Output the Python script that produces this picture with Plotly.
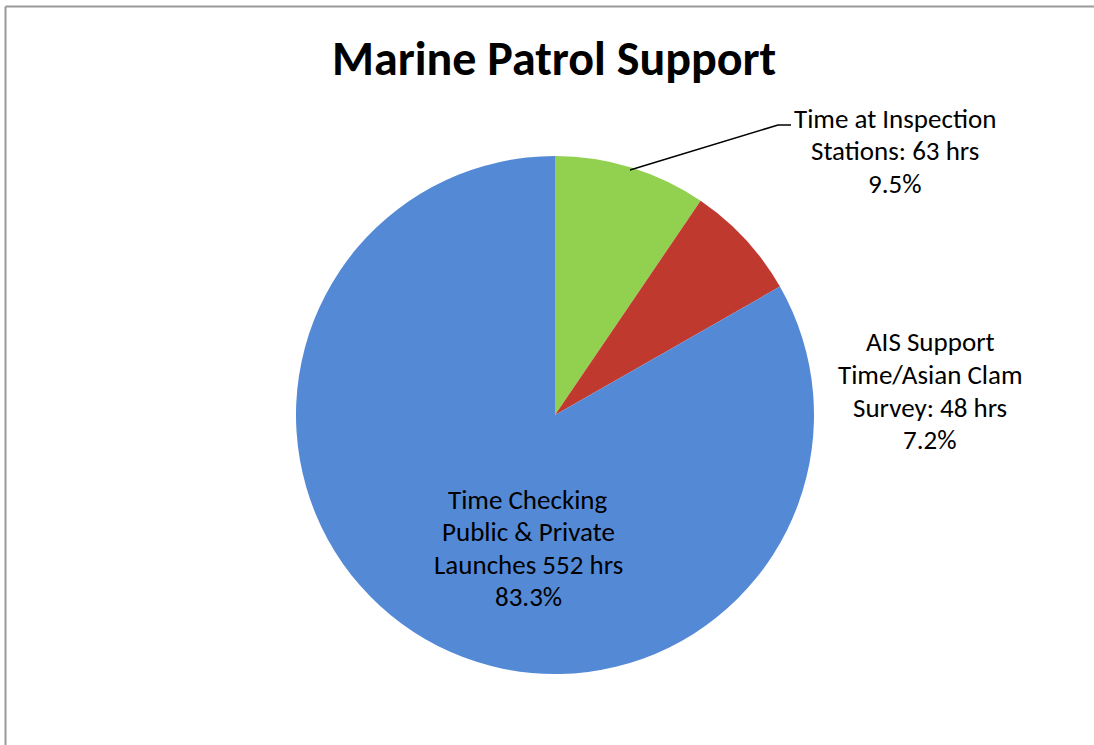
import plotly.graph_objects as go

# Hours logged per activity (clockwise from 12 o'clock)
categories = [
    "Time at Inspection<br>Stations:",
    "AIS Support<br>Time/Asian Clam<br>Survey:",
    "Time Checking<br>Public & Private<br>Launches",
]
hours = [63, 48, 552]
colors = ["#92D050", "#C0392F", "#5489D6"]

title_text = "Marine Patrol Support"

W, H = 1094, 745
FONT = "Carlito, Lato, sans-serif"
LABEL_SIZE = 27
LINE_STEP = 32.5

# pie geometry in pixels
cx, cy, r = 555, 415, 259


def px(x):
    return x / W


def py(y):
    return 1 - y / H


total = sum(hours)
pcts = [h / total * 100 for h in hours]

fig = go.Figure(
    go.Pie(
        labels=categories,
        values=hours,
        sort=False,
        direction="clockwise",
        rotation=0,
        marker=dict(colors=colors, line=dict(width=0)),
        textinfo="none",
        hoverinfo="label+value+percent",
        showlegend=False,
        domain=dict(x=[px(cx - r), px(cx + r)], y=[py(cy + r), py(cy - r)]),
    )
)

# first-line center (pixels) of each slice label
label_pos = [(895, 118), (930, 342), (528, 499)]
annotations = []
for cat, h, p, (lx, ly) in zip(categories, hours, pcts, label_pos):
    text = f"{cat} {h} hrs<br>{p:.1f}%"
    for i, line in enumerate(text.split("<br>")):
        annotations.append(
            dict(
                x=px(lx), y=py(ly + i * LINE_STEP), xref="paper", yref="paper",
                text=line, showarrow=False,
                xanchor="center", yanchor="middle", align="center",
                font=dict(family=FONT, size=LABEL_SIZE, color="#000000"),
            )
        )

# chart title
annotations.append(
    dict(
        x=px(554), y=py(58), xref="paper", yref="paper",
        text=f"<b>{title_text}</b>", showarrow=False,
        xanchor="center", yanchor="middle",
        font=dict(family=FONT, size=48, color="#000000"),
    )
)

shapes = [
    # leader line to the small green slice's label
    dict(type="path", xref="paper", yref="paper",
         path=f"M {px(630)},{py(170)} L {px(778)},{py(125)} L {px(791)},{py(125)}",
         line=dict(color="#000000", width=1.6)),
    # chart frame (left and top edges)
    dict(type="line", xref="paper", yref="paper",
         x0=px(5.5), x1=px(5.5), y0=0, y1=py(6.5),
         line=dict(color="#9A9A9A", width=2)),
    dict(type="line", xref="paper", yref="paper",
         x0=px(5.5), x1=1, y0=py(6.5), y1=py(6.5),
         line=dict(color="#9A9A9A", width=2)),
]

fig.update_layout(
    width=W, height=H,
    margin=dict(l=0, r=0, t=0, b=0),
    paper_bgcolor="#FFFFFF",
    plot_bgcolor="#FFFFFF",
    annotations=annotations,
    shapes=shapes,
)

fig.write_html("out.html")
